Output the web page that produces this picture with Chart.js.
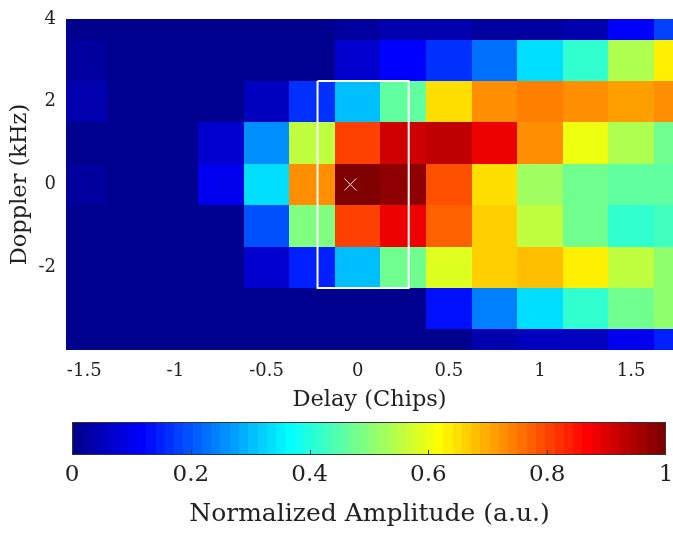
<!DOCTYPE html>
<html>
<head>
<meta charset="utf-8">
<title>Delay-Doppler</title>
<script src="https://cdn.jsdelivr.net/npm/chart.js@4.4.1/dist/chart.umd.min.js"></script>
<style>
  body { margin: 0; background: #fff; }
  #wrap { width: 673px; height: 533px; position: relative; }
</style>
</head>
<body>
<div id="wrap"><canvas id="mapa"></canvas></div>
<script>
// centros das celulas
const delayChips = [-1.5, -1.25, -1, -0.75, -0.5, -0.25, 0, 0.25, 0.5, 0.75, 1, 1.25, 1.5, 1.75]
const dopplerKHz = [4, 3, 2, 1, 0, -1, -2, -3, -4]

// amplitude normalizada, uma linha por doppler (de cima para baixo)
const amp4 = [0.005, 0.005, 0.005, 0.005, 0.005, 0.01, 0.03, 0.04, 0.04, 0.03, 0.03, 0.045, 0.115, 0.18]
const amp3 = [0.03, 0.005, 0.005, 0.005, 0.005, 0.015, 0.07, 0.11, 0.165, 0.225, 0.33, 0.41, 0.54, 0.63]
const amp2 = [0.04, 0.005, 0.005, 0.005, 0.06, 0.165, 0.305, 0.46, 0.645, 0.73, 0.745, 0.725, 0.705, 0.725]
const amp1 = [0.005, 0.005, 0.005, 0.07, 0.25, 0.55, 0.81, 0.91, 0.925, 0.885, 0.725, 0.605, 0.54, 0.475]
const amp0 = [0.025, 0.005, 0.005, 0.1, 0.336, 0.725, 1.0, 0.98, 0.79, 0.645, 0.525, 0.475, 0.46, 0.46]
const ampM1 = [0.005, 0.005, 0.005, 0.015, 0.19, 0.49, 0.8, 0.875, 0.78, 0.66, 0.56, 0.475, 0.41, 0.435]
const ampM2 = [0.005, 0.005, 0.005, 0.015, 0.07, 0.15, 0.305, 0.475, 0.585, 0.66, 0.675, 0.63, 0.56, 0.51]
const ampM3 = [0.005, 0.005, 0.005, 0.015, 0.005, 0.005, 0.005, 0.015, 0.14, 0.24, 0.33, 0.41, 0.475, 0.51]
const ampM4 = [0.005, 0.005, 0.015, 0.015, 0.005, 0.005, 0.005, 0.005, 0.015, 0.04, 0.05, 0.05, 0.1, 0.15]
const amplitude = [amp4, amp3, amp2, amp1, amp0, ampM1, ampM2, ampM3, ampM4]

const delayTicks = [-1.5, -1, -0.5, 0, 0.5, 1, 1.5]
const dopplerTicks = [-2, 0, 2, 4]
const colorbarTicks = [0, 0.2, 0.4, 0.6, 0.8, 1]

// janela branca e pico
const boxDelay = [-0.22, 0.28, 0.28, -0.22, -0.22]
const boxDoppler = [2.5, 2.5, -2.5, -2.5, 2.5]
const peakDelay = [-0.04]
const peakDoppler = [0]

const fonte = "'DejaVu Serif', serif"
const corTexto = '#222'

// jet(64) do matlab
function jet(v) {
    const i = Math.min(64, Math.max(1, Math.floor(v * 64) + 1))
    const b = i <= 8 ? 0.5 + i / 16 : i <= 24 ? 1 : i <= 40 ? 1 - (i - 24) / 16 : 0
    const g = i <= 8 ? 0 : i <= 24 ? (i - 8) / 16 : i <= 40 ? 1 : i <= 56 ? 1 - (i - 40) / 16 : 0
    const r = i <= 24 ? 0 : i <= 40 ? (i - 24) / 16 : i <= 56 ? 1 : 1 - (i - 56) / 16
    return `rgb(${Math.round(r * 255)},${Math.round(g * 255)},${Math.round(b * 255)})`
}

// sem folga lateral extra vinda do padding dos ticks
function semFolga(s) {
    s.paddingLeft = 0
    s.paddingRight = 0
}

const mapaCalor = {
    id: 'mapaCalor',
    beforeDatasetsDraw(chart) {
        const { ctx, chartArea, scales: { x, y } } = chart
        const meiaLarg = (delayChips[1] - delayChips[0]) / 2
        const meiaAlt = (dopplerKHz[0] - dopplerKHz[1]) / 2
        ctx.save()
        ctx.beginPath()
        ctx.rect(chartArea.left, chartArea.top, chartArea.width, chartArea.height)
        ctx.clip()
        dopplerKHz.forEach((d, r) => {
            delayChips.forEach((t, c) => {
                const x0 = Math.round(x.getPixelForValue(t - meiaLarg))
                const x1 = Math.round(x.getPixelForValue(t + meiaLarg))
                const y0 = Math.round(y.getPixelForValue(d + meiaAlt))
                const y1 = Math.round(y.getPixelForValue(d - meiaAlt))
                ctx.fillStyle = jet(amplitude[r][c])
                ctx.fillRect(x0, y0, x1 - x0, y1 - y0)
            })
        })
        ctx.restore()
    }
}

const barraCores = {
    id: 'barraCores',
    afterDraw(chart) {
        const { ctx } = chart
        const cb = chart.scales.cb
        const x0 = Math.round(cb.getPixelForValue(0))
        const x1 = Math.round(cb.getPixelForValue(1))
        const topo = Math.round(cb.top) + 7
        const alt = 33
        ctx.save()
        for (let i = 0; i < 64; i++) {
            const a = Math.round(cb.getPixelForValue(i / 64))
            const b = Math.round(cb.getPixelForValue((i + 1) / 64))
            ctx.fillStyle = jet((i + 0.5) / 64)
            ctx.fillRect(a, topo, b - a, alt)
        }
        ctx.strokeStyle = '#333'
        ctx.lineWidth = 1
        ctx.strokeRect(x0 + 0.5, topo + 0.5, x1 - x0 - 1, alt - 1)
        colorbarTicks.slice(1, -1).forEach(v => {
            const p = Math.round(cb.getPixelForValue(v)) + 0.5
            ctx.beginPath()
            ctx.moveTo(p, topo + alt)
            ctx.lineTo(p, topo + alt - 5)
            ctx.stroke()
        })
        ctx.restore()
    }
}

new Chart(document.getElementById('mapa'), {
    type: 'scatter',
    data: {
        datasets: [
            {
                label: 'janela',
                data: boxDelay.map((t, i) => ({ x: t, y: boxDoppler[i] })),
                showLine: true,
                borderColor: '#ffffff',
                borderWidth: 2,
                pointRadius: 0,
                fill: false
            },
            {
                label: 'pico',
                data: peakDelay.map((t, i) => ({ x: t, y: peakDoppler[i] })),
                pointStyle: 'crossRot',
                pointRadius: 8.5,
                borderColor: '#eeeeee',
                borderWidth: 1,
                backgroundColor: 'transparent'
            }
        ]
    },
    options: {
        responsive: true,
        maintainAspectRatio: false,
        animation: false,
        layout: { autoPadding: false, padding: { top: 12, left: 0, right: 0, bottom: 0 } },
        plugins: { legend: { display: false }, tooltip: { enabled: false } },
        scales: {
            x: {
                type: 'linear',
                position: 'bottom',
                weight: 0,
                min: -1.6,
                max: 1.73,
                grid: { display: false, drawTicks: false },
                border: { display: false },
                afterBuildTicks: s => { s.ticks = delayTicks.map(v => ({ value: v })) },
                afterFit: s => { s.height = 65; semFolga(s) },
                ticks: {
                    padding: 12,
                    maxRotation: 0,
                    autoSkip: false,
                    color: corTexto,
                    font: { family: fonte, size: 18, lineHeight: 1 },
                    callback: v => String(v)
                },
                title: {
                    display: true,
                    text: 'Delay (Chips)',
                    color: corTexto,
                    font: { family: fonte, size: 22.5, lineHeight: 1 },
                    padding: { top: 0, bottom: 4 }
                }
            },
            cb: {
                type: 'linear',
                axis: 'x',
                position: 'bottom',
                weight: 1,
                min: -0.0101,
                max: 1.0118,
                grid: { display: false, drawTicks: false },
                border: { display: false },
                afterBuildTicks: s => { s.ticks = colorbarTicks.map(v => ({ value: v })) },
                afterFit: s => { s.height = 118; semFolga(s) },
                ticks: {
                    padding: 49,
                    maxRotation: 0,
                    autoSkip: false,
                    color: corTexto,
                    font: { family: fonte, size: 23, lineHeight: 1 },
                    callback: v => String(v)
                },
                title: {
                    display: true,
                    text: 'Normalized Amplitude (a.u.)',
                    color: corTexto,
                    font: { family: fonte, size: 25, lineHeight: 1 },
                    padding: { top: 0, bottom: 6 }
                }
            },
            y: {
                type: 'linear',
                position: 'left',
                min: -4,
                max: 4,
                grid: { display: false, drawTicks: false },
                border: { display: false },
                afterBuildTicks: s => { s.ticks = dopplerTicks.map(v => ({ value: v })) },
                afterFit: s => { s.width = 66 },
                ticks: {
                    padding: 10,
                    autoSkip: false,
                    color: corTexto,
                    font: { family: fonte, size: 18, lineHeight: 1 },
                    callback: v => String(v)
                },
                title: {
                    display: true,
                    text: 'Doppler (kHz)',
                    color: corTexto,
                    font: { family: fonte, size: 22.5, lineHeight: 1 },
                    padding: { top: 9, bottom: 0 }
                }
            }
        }
    },
    plugins: [mapaCalor, barraCores]
})
</script>
</body>
</html>
